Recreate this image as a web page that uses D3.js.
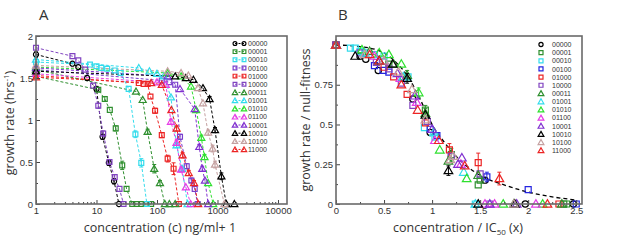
<!DOCTYPE html>
<html>
<head>
<meta charset="utf-8">
<script src="https://cdn.jsdelivr.net/npm/d3@7"></script>
<style>
  body { margin: 0; background: #fff; }
  svg text { font-family: "Open Sans", "DejaVu Sans", sans-serif; fill: #333; }
  svg text.small { font-family: "Liberation Sans", Arial, sans-serif; }
</style>
</head>
<body>
<div id="chart"></div>
<script>
// strains shown in both panels
const strains = ["00000","00001","00010","00100","01000","10000","00011","01001","01010","01100","10001","10010","10100","11000"];
const shapes  = ["circle","square","square","square","square","square","triangle","triangle","triangle","triangle","triangle","triangle","triangle","triangle"];
const colorsA = ["#000000","#2f8f2f","#33dcec","#7a40cc","#ec2424","#8043c0","#2f8f2f","#33dcec","#2ee02e","#e63ce6","#8030d0","#000000","#c4a0a0","#ec2424"];
const colorsB = ["#000000","#2f8f2f","#33dcec","#2424e0","#ec2424","#8043c0","#2f8f2f","#33dcec","#2ee02e","#e63ce6","#8030d0","#000000","#c4a0a0","#ec2424"];

// panel A: [concentration+1, growth rate, error]
const dataA = [
  [[1,1.78,.03],[4,1.67,.02],[5,1.63,.02],[7,1.5,.02],[10,1.37,.03],[12.6,0.8,.03],[16,0.49,.03],[19.5,0.27,.03],[23.5,0,0]],
  [[1,1.52,.02],[10.7,1.36,.02],[13.7,1.25,.03],[16.6,1.12,.02],[20.8,0.9,.03],[26.6,0.46,.05],[31.4,0.18,.02],[39,0,0],[46,0,0],[55,0,0],[65,0,0],[80,0,0]],
  [[1,1.69,.02],[7.8,1.66,.02],[10,1.64,.02],[12,1.62,.02],[15,1.61,.02],[20,1.59,.02],[25,1.56,.02],[34,1.37,.02],[44,0.83,.04],[55,0.49,.05],[68,0,0]],
  [[1,1.6,.02],[120,1.47,.02],[160,1.45,.02],[200,1.42,.02],[240,0.8,.03],[310,0.45,.03],[370,0.28,.03],[420,0.18,.02],[470,0,0]],
  [[1,1.53,.02],[50,1.44,.02],[60,1.43,.02],[70,1.43,.02],[78,1.28,.02],[93,1.11,.03],[120,0.82,.03],[150,0.54,.04],[188,0.42,.07],[230,0,0]],
  [[1,1.86,.02],[4,1.76,.02],[5,1.71,.02],[6.5,1.6,.02],[8.8,1.41,.02],[10.7,1.17,.03],[12.9,0.84,.03],[16.4,0.5,.03],[20,0.32,.03],[24,0.18,.02],[28,0,0]],
  [[1,1.6,.02],[45,1.34,.02],[58,1.24,.02],[70,0.86,.03],[90,0.42,.05],[112,0.25,.03],[135,0,0],[160,0,0],[200,0,0]],
  [[1,1.72,.02],[50,1.62,.02],[75,1.58,.02],[100,1.55,.02],[130,1.52,.02],[170,1.27,.02],[210,0.7,.03],[260,0.42,.03],[320,0,0]],
  [[1,1.63,.02],[150,1.56,.02],[250,1.52,.02],[365,1.4,.02],[445,1.12,.02],[540,0.79,.03],[610,0.56,.03],[700,0.25,.02],[850,0,0]],
  [[1,1.55,.02],[100,1.45,.02],[140,1.42,.02],[170,0.98,.03],[210,0.73,.03],[250,0.41,.03],[300,0.2,.02],[360,0,0]],
  [[1,1.62,.02],[150,1.52,.02],[240,1.37,.02],[420,1.13,.02],[500,0.68,.03],[560,0.42,.03],[620,0.28,.02],[700,0,0]],
  [[1,1.58,.02],[200,1.52,.02],[300,1.5,.02],[400,1.48,.02],[575,1.38,.02],[740,1.25,.03],[910,0.88,.03],[1160,0.33,.04],[1400,0,0],[1900,0,0]],
  [[1,1.65,.02],[150,1.58,.02],[250,1.56,.02],[330,1.53,.02],[475,1.38,.02],[575,1.2,.02],[700,0.85,.03],[830,0.66,.04],[910,0.47,.04],[1300,0,0]],
  [[1,1.51,.02],[80,1.44,.02],[120,1.42,.02],[173,1.12,.02],[211,0.9,.03],[265,0.58,.03],[335,0.37,.03],[410,0.25,.03],[480,0,0]]
];

// panel B: [concentration / IC50, growth rate / null-fitness, error]
const dataB = [
  [[0,1,0],[0.25,0.93,.02],[0.31,0.91,.02],[0.44,0.84,.02],[0.8,0.66,.02],[0.98,0.45,.02],[1.55,0.15,.02],[1.97,0,0],[2.47,0,0]],
  [[0,1,0],[0.55,0.88,.02],[0.7,0.8,.02],[0.93,0.59,.03],[1.2,0.31,.04],[1.48,0.12,.02],[1.5,0.15,.02],[2.37,0,0],[2.4,0,0]],
  [[0,1,0],[0.15,0.98,.01],[0.2,0.98,.01],[0.25,0.96,.01],[0.3,0.95,.01],[0.4,0.94,.01],[0.5,0.93,.01],[0.75,0.8,.02],[0.92,0.48,.02],[1.03,0.42,.02],[1.45,0,0]],
  [[0,1,0],[0.4,0.87,.02],[0.49,0.84,.02],[0.55,0.83,.02],[0.98,0.47,.02],[1.05,0.43,.02],[1.57,0.17,.03],[2.0,0.09,.01],[2.5,0,0]],
  [[0,1,0],[0.5,0.86,.02],[0.6,0.8,.02],[0.74,0.69,.02],[0.93,0.51,.02],[1.18,0.34,.04],[1.48,0.26,.06],[2.32,0,0]],
  [[0,1,0],[0.25,0.95,.02],[0.42,0.89,.02],[0.55,0.85,.02],[0.68,0.76,.02],[0.8,0.62,.02],[0.95,0.52,.02],[1.2,0.3,.02],[1.5,0.19,.02],[1.6,0,0]],
  [[0,1,0],[0.35,0.96,.02],[0.6,0.88,.02],[0.74,0.81,.03],[0.93,0.57,.03],[1.17,0.27,.02],[1.48,0.18,.02],[1.85,0,0],[2.35,0,0]],
  [[0,1,0],[0.3,0.95,.02],[0.45,0.9,.02],[0.7,0.8,.02],[1.02,0.45,.02],[1.33,0.2,.02],[1.45,0,0]],
  [[0,1,0],[0.27,0.97,.02],[0.45,0.95,.02],[0.55,0.94,.02],[0.68,0.88,.02],[0.86,0.7,.03],[1.08,0.34,.02],[1.36,0.16,.02],[1.74,0,0],[2.15,0,0]],
  [[0,1,0],[0.4,0.93,.02],[0.67,0.79,.02],[0.84,0.64,.02],[1.03,0.4,.02],[1.3,0.25,.02],[1.55,0,0],[1.65,0,0],[2.08,0,0]],
  [[0,1,0],[0.5,0.9,.02],[0.64,0.82,.02],[0.82,0.68,.02],[1.0,0.47,.02],[1.27,0.25,.02],[1.31,0.29,.02],[1.6,0,0],[1.88,0,0]],
  [[0,1,0],[0.2,0.93,.02],[0.45,0.9,.02],[0.59,0.88,.02],[0.74,0.79,.03],[0.93,0.56,.02],[1.17,0.21,.03],[1.48,0,0],[1.86,0,0]],
  [[0,1,0],[0.3,0.94,.02],[0.5,0.9,.02],[0.65,0.83,.02],[0.79,0.72,.02],[0.93,0.53,.02],[1.19,0.28,.02],[1.22,0.3,.02],[1.85,0,0]],
  [[0,1,0],[0.35,0.94,.02],[0.45,0.9,.02],[0.68,0.75,.02],[0.85,0.59,.02],[1.07,0.4,.02],[1.34,0.24,.02],[1.7,0.16,.04],[2.2,0,0]]
];

// model curve in panel B
const curveX = [0,0.25,0.5,0.625,0.75,0.875,1,1.125,1.25,1.5,1.75,2,2.25,2.5];
const curveY = [1,0.99,0.95,0.89,0.8,0.66,0.5,0.39,0.3,0.18,0.12,0.075,0.045,0.025];

const ticksAx = [1,10,100,1000,10000];
const ticksAy = [0,0.5,1,1.5,2];
const ticksBx = [0,0.5,1,1.5,2,2.5];
const ticksBy = [0,0.25,0.5,0.75];

const svg = d3.select('#chart').append('svg').attr('width',617).attr('height',241);

function marker(g, shape, color, x, y, size){
  let t = shape=="circle" ? d3.symbolCircle : shape=="square" ? d3.symbolSquare : d3.symbolTriangle;
  let s = shape=="circle" ? size*0.85 : shape=="triangle" ? size*0.9 : size;
  g.append('path').attr('d', d3.symbol().type(t).size(s)())
    .attr('transform','translate('+x+','+(shape=="triangle" ? y+0.6 : y)+')')
    .attr('fill','none').attr('stroke',color).attr('stroke-width',1.2);
}

function errbar(g, color, x, y0, y1){
  g.append('line').attr('x1',x).attr('x2',x).attr('y1',y0).attr('y2',y1).attr('stroke',color).attr('stroke-width',1);
  g.append('line').attr('x1',x-2).attr('x2',x+2).attr('y1',y0).attr('y2',y0).attr('stroke',color).attr('stroke-width',1);
  g.append('line').attr('x1',x-2).attr('x2',x+2).attr('y1',y1).attr('y2',y1).attr('stroke',color).attr('stroke-width',1);
}

// minor ticks only, no labels
function minorTicks(g, axis){
  g.call(axis.tickFormat(''));
  g.selectAll('text').remove();
}

// ---------------- panel A ----------------
let xA = d3.scaleLog().domain([1,14090]).range([36,287]);
let yA = d3.scaleLinear().domain([0,2]).range([204,36]);

let gA = svg.append('g');
let lineA = d3.line().x(function(d){return xA(d[0])}).y(function(d){return yA(d[1])});

dataA.forEach(function(series,i){
  gA.append('path').datum(series).attr('d',lineA).attr('fill','none')
    .attr('stroke',colorsA[i]).attr('stroke-width',1).attr('stroke-dasharray','3,2');
});
dataA.forEach(function(series,i){
  series.forEach(function(d){
    if(d[2]>0.025) errbar(gA, colorsA[i], xA(d[0]), yA(d[1]-d[2]), yA(d[1]+d[2]));
    marker(gA, shapes[i], colorsA[i], xA(d[0]), yA(d[1]), 24);
  });
});

// axes A
let axAx = d3.axisBottom(xA).tickValues(ticksAx).tickSize(-4).tickPadding(3).tickFormat(d3.format('d'));
gA.append('g').attr('class','axis').attr('transform','translate(0,204)').call(axAx);
let minorA = [];
for(let dec=1; dec<10000; dec*=10){ for(let k=2;k<10;k++) minorA.push(dec*k); }
minorTicks(gA.append('g').attr('transform','translate(0,204)'), d3.axisBottom(xA).tickValues(minorA).tickSize(-2));
let axAy = d3.axisLeft(yA).tickValues(ticksAy).tickSize(-4).tickPadding(3).tickFormat(d3.format('~g'));
gA.append('g').attr('class','axis').attr('transform','translate(36,0)').call(axAy);
minorTicks(gA.append('g').attr('transform','translate(36,0)'), d3.axisLeft(yA).tickValues([0.25,0.75,1.25,1.75]).tickSize(-2));
gA.append('rect').attr('x',36).attr('y',36).attr('width',251).attr('height',168)
  .attr('fill','none').attr('stroke','#6a6a6a').attr('stroke-width',1.6);

gA.append('text').attr('x',160).attr('y',231.5).attr('text-anchor','middle').attr('font-size',12.5).text('concentration (c) ng/ml+ 1');
let ylabA = gA.append('text').attr('transform','translate(14,123) rotate(-90)').attr('text-anchor','middle').attr('font-size',12.5);
ylabA.append('tspan').text('growth rate  (hrs');
ylabA.append('tspan').attr('font-size',8).attr('dy',-5).text('-1');
ylabA.append('tspan').attr('dy',5).text(')');
gA.append('text').attr('x',39).attr('y',20).attr('font-size',15).text('A');

// legend A
strains.forEach(function(s,i){
  let y = 43.5 + i*8.15;
  gA.append('line').attr('x1',235).attr('x2',244).attr('y1',y).attr('y2',y)
    .attr('stroke',colorsA[i]).attr('stroke-width',1).attr('stroke-dasharray','2,1.5');
  marker(gA, shapes[i], colorsA[i], 235, y, 14);
  marker(gA, shapes[i], colorsA[i], 244, y, 14);
  gA.append('text').attr('class','small').attr('x',248).attr('y',y+2.6).attr('font-size',7).text(s);
});

// ---------------- panel B ----------------
let xB = d3.scaleLinear().domain([0,2.56]).range([336,582]);
let yB = d3.scaleLinear().domain([0,1.0566]).range([204,36]);
let gB = svg.append('g');

let curve = curveX.map(function(x,i){return [x,curveY[i]]});
gB.append('path').datum(curve)
  .attr('d', d3.line().curve(d3.curveMonotoneX).x(function(d){return xB(d[0])}).y(function(d){return yB(d[1])}))
  .attr('fill','none').attr('stroke','#000').attr('stroke-width',1.3).attr('stroke-dasharray','4,3');

dataB.forEach(function(series,i){
  series.forEach(function(d){
    if(d[2]>0.025) errbar(gB, colorsB[i], xB(d[0]), yB(d[1]-d[2]), yB(d[1]+d[2]));
    marker(gB, shapes[i], colorsB[i], xB(d[0]), yB(d[1]), 36);
  });
});

gB.append('g').attr('transform','translate(0,204)')
  .call(d3.axisBottom(xB).tickValues(ticksBx).tickSize(-4).tickPadding(3).tickFormat(d3.format('~g')));
minorTicks(gB.append('g').attr('transform','translate(0,204)'), d3.axisBottom(xB).tickValues([0.25,0.75,1.25,1.75,2.25]).tickSize(-2));
gB.append('g').attr('transform','translate(336,0)')
  .call(d3.axisLeft(yB).tickValues(ticksBy).tickSize(-4).tickPadding(3).tickFormat(d3.format('~g')));
minorTicks(gB.append('g').attr('transform','translate(336,0)'), d3.axisLeft(yB).tickValues([0.125,0.375,0.625,0.875,1]).tickSize(-2));
gB.append('rect').attr('x',336).attr('y',36).attr('width',246).attr('height',168)
  .attr('fill','none').attr('stroke','#6a6a6a').attr('stroke-width',1.6);

let xlabB = gB.append('text').attr('x',458).attr('y',231.5).attr('text-anchor','middle').attr('font-size',12.5);
xlabB.append('tspan').text('concentration / IC');
xlabB.append('tspan').attr('font-size',8).attr('dy',3).text('50');
xlabB.append('tspan').attr('dy',-3).text(' (x)');
gB.append('text').attr('transform','translate(310,120) rotate(-90)').attr('text-anchor','middle').attr('font-size',12.5).text('growth rate / null-fitness');
gB.append('text').attr('x',338).attr('y',20).attr('font-size',15).text('B');

strains.forEach(function(s,i){
  let y = 44.5 + i*8.15;
  marker(gB, shapes[i], colorsB[i], 541, y, 16);
  gB.append('text').attr('class','small').attr('x',552).attr('y',y+2.6).attr('font-size',7).text(s);
});

svg.selectAll('.domain').remove();
svg.selectAll('.tick text').attr('class','small').attr('font-size',9.5).attr('fill','#333');
svg.selectAll('.tick line').attr('stroke','#444');
</script>
</body>
</html>
